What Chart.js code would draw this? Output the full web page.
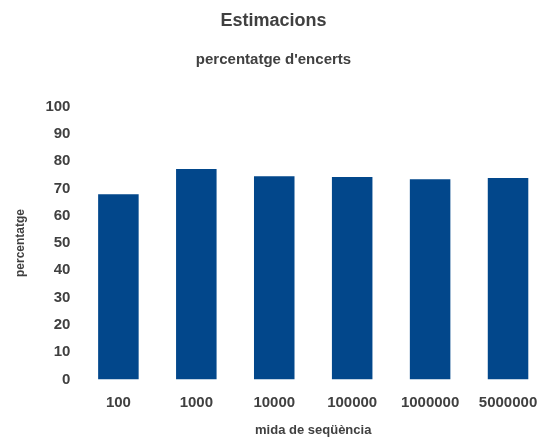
<!DOCTYPE html>
<html>
<head>
<meta charset="utf-8">
<script src="https://cdn.jsdelivr.net/npm/chart.js@4/dist/chart.umd.min.js"></script>
<style>
  html, body { margin: 0; padding: 0; background: #fff; overflow: hidden; }
  #wrap { width: 547px; height: 438px; }
</style>
</head>
<body>
<div id="wrap"><canvas id="chart"></canvas></div>
<script>
const sizes = ['100', '1000', '10000', '100000', '1000000', '5000000'];
const encerts = [67.9, 77.1, 74.5, 74.2, 73.4, 73.8];

const textColor = '#404040';
const barColor = '#02478B';
const font = 'Liberation Sans, Arial, sans-serif';

new Chart(document.getElementById('chart').getContext('2d'), {
  type: 'bar',
  data: {
    labels: sizes,
    datasets: [{
      label: "percentatge d'encerts",
      data: encerts,
      backgroundColor: barColor,
      borderWidth: 0,
      barPercentage: 0.52,
      categoryPercentage: 1
    }]
  },
  options: {
    responsive: true,
    maintainAspectRatio: false,
    animation: false,
    layout: { padding: 0 },
    scales: {
      x: {
        grid: { display: false },
        border: { display: false },
        ticks: { color: textColor, font: { family: font, size: 15, weight: 'bold' }, padding: 6, maxRotation: 0 },
        title: { display: true, text: 'mida de seqüència', color: textColor,
                 font: { family: font, size: 13, weight: 'bold' }, padding: { top: 5, bottom: 0 } }
      },
      y: {
        min: 0,
        max: 100,
        grid: { display: false },
        border: { display: false },
        ticks: { stepSize: 10, color: textColor, font: { family: font, size: 15, weight: 'bold' }, padding: 1 },
        title: { display: true, text: 'percentatge', color: textColor,
                 font: { family: font, size: 12, weight: 'bold' }, padding: { top: 13, bottom: 17 } }
      }
    },
    plugins: {
      legend: { display: false },
      tooltip: { enabled: false },
      title: {
        display: true,
        text: 'Estimacions',
        color: textColor,
        font: { family: font, size: 18, weight: 'bold' },
        padding: { top: 10, bottom: 16 }
      },
      subtitle: {
        display: true,
        text: "percentatge d'encerts",
        color: textColor,
        font: { family: font, size: 15, weight: 'bold' },
        padding: { top: 3, bottom: 38 }
      }
    }
  }
});
</script>
</body>
</html>
